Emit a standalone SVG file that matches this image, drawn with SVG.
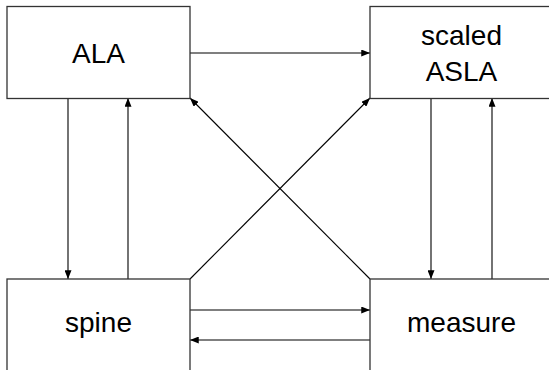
<svg xmlns="http://www.w3.org/2000/svg" width="549" height="370" viewBox="0 0 549 370">
<style>
.box{fill:#fff;stroke:#333;stroke-width:1.3}
.lbl{font-family:"Liberation Sans",Arial,sans-serif;font-size:28px;fill:#000;text-anchor:middle}
.c{stroke:#000;stroke-width:1.1;fill:none;marker-end:url(#ah)}
</style>
<defs>
<marker id="ah" viewBox="0 0 10 8" refX="10" refY="4" markerWidth="9" markerHeight="7" markerUnits="userSpaceOnUse" orient="auto">
<path d="M0,0 L10,4 L0,8 Z" fill="#000"/>
</marker>
</defs>
<rect width="549" height="370" fill="#fff"/>
<g id="connectors">
<line class="c" x1="190" y1="53" x2="370" y2="53"/>
<line class="c" x1="68" y1="98" x2="68" y2="279"/>
<line class="c" x1="128" y1="279" x2="128" y2="98"/>
<line class="c" x1="431" y1="98" x2="431" y2="279"/>
<line class="c" x1="492" y1="279" x2="492" y2="98"/>
<line class="c" x1="190" y1="310" x2="370" y2="310"/>
<line class="c" x1="370" y1="340" x2="190" y2="340"/>
<line class="c" x1="190" y1="279" x2="370" y2="98"/>
<line class="c" x1="370" y1="279" x2="190" y2="98"/>
</g>
<g id="ALA">
<rect class="box" x="7" y="6.5" width="183" height="92"/>
<text class="lbl" x="98.5" y="63">ALA</text>
</g>
<g id="scaledASLA">
<rect class="box" x="370" y="6.5" width="183" height="92"/>
<text class="lbl" x="461.5" y="45">scaled</text>
<text class="lbl" x="461.5" y="81">ASLA</text>
</g>
<g id="spine">
<rect class="box" x="7" y="279" width="183" height="92"/>
<text class="lbl" x="98.5" y="332">spine</text>
</g>
<g id="measure">
<rect class="box" x="370" y="279" width="183" height="92"/>
<text class="lbl" x="461.5" y="332">measure</text>
</g>
</svg>
